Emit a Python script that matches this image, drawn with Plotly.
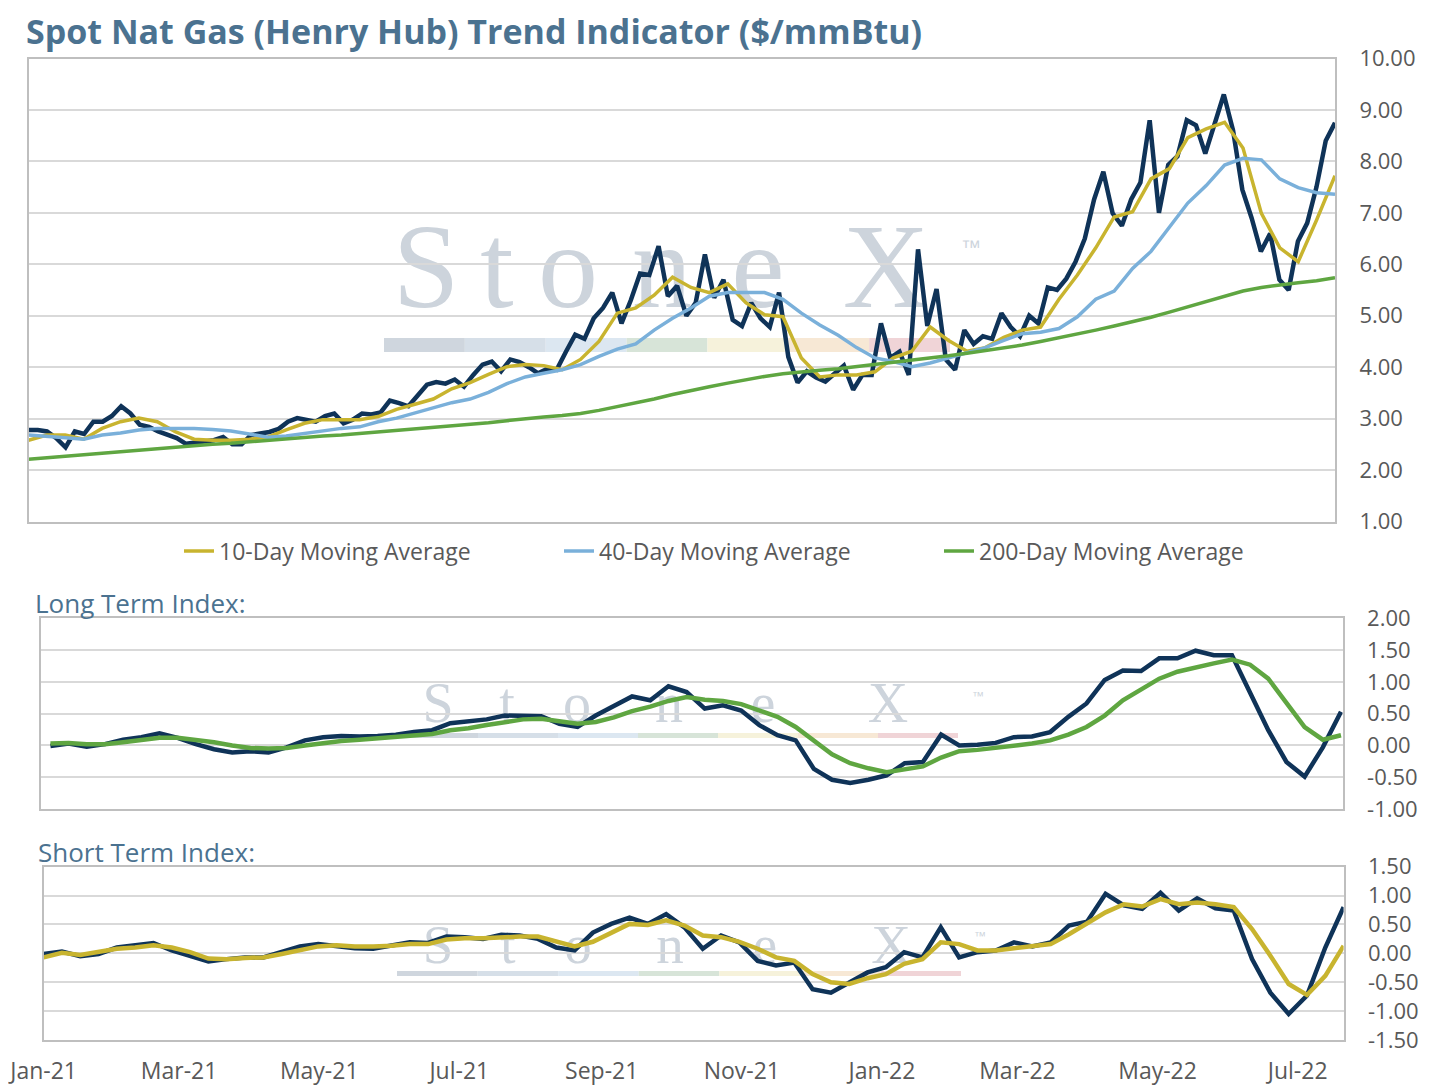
import pandas as pd
import plotly.graph_objects as go

W, H = 1431, 1090
start = pd.Timestamp("2021-01-01")
end = pd.Timestamp("2022-07-21")

# Spot Henry Hub price, read every ~4 days ($/mmBtu)
spot = [
    2.78, 2.78, 2.75, 2.62, 2.44, 2.75, 2.70, 2.94, 2.94, 3.05,
    3.24, 3.10, 2.88, 2.84, 2.75, 2.68, 2.62, 2.51, 2.54, 2.56,
    2.58, 2.64, 2.50, 2.50, 2.68, 2.71, 2.74, 2.80, 2.94, 3.01,
    2.98, 2.94, 3.05, 3.10, 2.91, 2.98, 3.10, 3.08, 3.12, 3.35,
    3.30, 3.24, 3.45, 3.66, 3.71, 3.68, 3.76, 3.62, 3.85, 4.05,
    4.11, 3.92, 4.15, 4.10, 4.00, 3.88, 3.97, 3.95, 4.30, 4.63,
    4.55, 4.95, 5.15, 5.45, 4.85, 5.30, 5.82, 5.79, 6.35, 5.38,
    5.58, 5.00, 5.25, 6.19, 5.35, 5.70, 4.92, 4.80, 5.25, 4.95,
    4.78, 5.45, 4.20, 3.70, 3.92, 3.80, 3.72, 3.88, 4.03, 3.56,
    3.85, 3.85, 4.85, 4.18, 4.30, 3.85, 6.29, 4.80, 5.52, 4.15,
    3.95, 4.72, 4.45, 4.60, 4.55, 5.05, 4.78, 4.60, 5.00, 4.85,
    5.55, 5.50, 5.72, 6.05, 6.50, 7.26, 7.80, 6.99, 6.75, 7.26,
    7.59, 8.80, 7.00, 7.93, 8.10, 8.80, 8.70, 8.15, 8.70, 9.30,
    8.60, 7.45, 6.90, 6.25, 6.60, 5.70, 5.50, 6.45, 6.80, 7.50,
    8.40, 8.75,
]

# Moving averages, read every ~8 days
ma_10 = [
    2.58, 2.68, 2.68, 2.60, 2.81, 2.94, 3.01, 2.94, 2.74, 2.60,
    2.58, 2.58, 2.60, 2.64, 2.78, 2.91, 2.98, 2.98, 2.98, 3.04,
    3.18, 3.28, 3.38, 3.58, 3.70, 3.86, 4.01, 4.05, 4.03, 3.95,
    4.15, 4.50, 5.05, 5.15, 5.40, 5.75, 5.55, 5.45, 5.62, 5.25,
    5.02, 4.98, 4.18, 3.81, 3.85, 3.85, 3.91, 4.18, 4.31, 4.78,
    4.52, 4.31, 4.38, 4.58, 4.72, 4.78, 5.32, 5.79, 6.32, 6.92,
    7.02, 7.66, 7.86, 8.46, 8.63, 8.76, 8.26, 6.99, 6.32, 6.05,
    6.86, 7.72,
]
ma_40 = [
    2.68, 2.66, 2.63, 2.60, 2.68, 2.72, 2.78, 2.81, 2.81, 2.81,
    2.79, 2.76, 2.70, 2.64, 2.66, 2.71, 2.76, 2.81, 2.84, 2.94,
    3.01, 3.11, 3.21, 3.31, 3.38, 3.51, 3.68, 3.81, 3.88, 3.95,
    4.05, 4.21, 4.35, 4.45, 4.72, 4.95, 5.15, 5.38, 5.45, 5.45,
    5.45, 5.32, 5.05, 4.82, 4.62, 4.38, 4.18, 4.11, 4.01, 4.08,
    4.18, 4.28, 4.38, 4.52, 4.65, 4.68, 4.75, 4.98, 5.32, 5.48,
    5.92, 6.25, 6.72, 7.19, 7.53, 7.93, 8.06, 8.03, 7.66, 7.49,
    7.39, 7.36,
]
ma_200 = [
    2.21, 2.24, 2.27, 2.30, 2.33, 2.36, 2.39, 2.42, 2.45, 2.48,
    2.50, 2.52, 2.55, 2.58, 2.61, 2.63, 2.66, 2.68, 2.71, 2.73,
    2.76, 2.79, 2.82, 2.85, 2.88, 2.92, 2.96, 3.00, 3.03, 3.06,
    3.10, 3.16, 3.23, 3.30, 3.38, 3.47, 3.55, 3.62, 3.69, 3.76,
    3.82, 3.87, 3.91, 3.94, 3.97, 4.01, 4.05, 4.09, 4.13, 4.17,
    4.22, 4.27, 4.32, 4.37, 4.43, 4.50, 4.57, 4.65, 4.72, 4.80,
    4.88, 4.97, 5.07, 5.17, 5.28, 5.38, 5.48, 5.55, 5.60, 5.64,
    5.68, 5.74,
]

# Long term index
long_idx = [
    -0.01, 0.03, -0.02, 0.02, 0.09, 0.13, 0.19, 0.12, 0.02, -0.06,
    -0.11, -0.09, -0.11, -0.03, 0.08, 0.13, 0.15, 0.14, 0.15, 0.17,
    0.21, 0.24, 0.35, 0.38, 0.41, 0.47, 0.47, 0.46, 0.34, 0.29,
    0.47, 0.63, 0.77, 0.71, 0.93, 0.84, 0.58, 0.63, 0.55, 0.32,
    0.16, 0.08, -0.37, -0.54, -0.59, -0.54, -0.47, -0.28, -0.26, 0.17,
    0.00, 0.01, 0.04, 0.13, 0.14, 0.21, 0.45, 0.66, 1.03, 1.18,
    1.17, 1.37, 1.37, 1.49, 1.42, 1.42, 0.82, 0.24, -0.26, -0.49,
    -0.03, 0.53,
]
long_avg = [
    0.03, 0.04, 0.02, 0.02, 0.05, 0.09, 0.12, 0.12, 0.09, 0.05,
    0.00, -0.04, -0.05, -0.04, 0.00, 0.04, 0.07, 0.09, 0.11, 0.13,
    0.16, 0.18, 0.24, 0.27, 0.32, 0.37, 0.41, 0.42, 0.38, 0.34,
    0.37, 0.44, 0.54, 0.61, 0.70, 0.76, 0.72, 0.70, 0.65, 0.55,
    0.45, 0.29, 0.08, -0.14, -0.28, -0.36, -0.42, -0.38, -0.33, -0.19,
    -0.09, -0.07, -0.04, -0.01, 0.03, 0.08, 0.17, 0.29, 0.47, 0.71,
    0.89, 1.05, 1.16, 1.23, 1.29, 1.35, 1.27, 1.05, 0.66, 0.29,
    0.09, 0.16,
]

# Short term index
short_idx = [
    -0.01, 0.03, -0.05, -0.01, 0.10, 0.14, 0.18, 0.05, -0.04, -0.14,
    -0.10, -0.07, -0.07, 0.02, 0.12, 0.16, 0.13, 0.09, 0.08, 0.13,
    0.19, 0.18, 0.29, 0.28, 0.25, 0.32, 0.31, 0.25, 0.10, 0.05,
    0.36, 0.51, 0.62, 0.51, 0.68, 0.45, 0.08, 0.31, 0.19, -0.13,
    -0.21, -0.16, -0.62, -0.68, -0.50, -0.33, -0.24, 0.02, -0.07, 0.45,
    -0.07, 0.02, 0.05, 0.19, 0.12, 0.19, 0.48, 0.55, 1.03, 0.83,
    0.77, 1.05, 0.74, 0.95, 0.78, 0.74, -0.10, -0.68, -1.05, -0.73,
    0.10, 0.80,
]
short_avg = [
    -0.07, 0.01, -0.03, 0.02, 0.08, 0.10, 0.14, 0.10, 0.02, -0.09,
    -0.10, -0.08, -0.07, -0.01, 0.06, 0.12, 0.14, 0.12, 0.12, 0.13,
    0.16, 0.16, 0.24, 0.26, 0.26, 0.28, 0.29, 0.29, 0.20, 0.12,
    0.20, 0.36, 0.51, 0.49, 0.57, 0.48, 0.31, 0.28, 0.20, 0.08,
    -0.07, -0.13, -0.36, -0.50, -0.53, -0.43, -0.36, -0.18, -0.10, 0.19,
    0.16, 0.05, 0.05, 0.09, 0.13, 0.16, 0.33, 0.51, 0.71, 0.85,
    0.81, 0.94, 0.85, 0.88, 0.85, 0.80, 0.42, -0.04, -0.53, -0.72,
    -0.39, 0.13,
]

# axis ticks
price_ticks = [1, 2, 3, 4, 5, 6, 7, 8, 9, 10]
long_ticks = [-1.0, -0.5, 0.0, 0.5, 1.0, 1.5, 2.0]
short_ticks = [-1.5, -1.0, -0.5, 0.0, 0.5, 1.0, 1.5]
month_ticks = pd.date_range("2021-01-01", "2022-07-01", freq="2MS")

spot_dates = pd.date_range(start, end, periods=len(spot))
ma_dates = pd.date_range(start, end, periods=len(ma_10))

NAVY = "#0f3358"
YELLOW = "#c8b42f"
BLUE = "#7ab0da"
GREEN = "#5fa641"
TITLE_C = "#4b7290"
TEXT_C = "#595959"
GRID_C = "#d9d9d9"
BORDER_C = "#bfbfbf"
FONT = "Open Sans"

# page body adds an 8px offset, positions below are screen pixels
OFF = 8


def px(x):
    return (x - OFF) / W


def py(y):
    return 1 - (y - OFF) / H


def labels(vals):
    # plain hyphen for negatives, like the original
    return [f"{v:.2f}" for v in vals]


fig = go.Figure()

# top panel
fig.add_trace(go.Scatter(x=spot_dates, y=spot, mode="lines", name="Spot",
                         line=dict(color=NAVY, width=4.5), showlegend=False,
                         xaxis="x", yaxis="y"))
fig.add_trace(go.Scatter(x=ma_dates, y=ma_10, mode="lines", name="10-Day Moving Average",
                         line=dict(color=YELLOW, width=3.5), xaxis="x", yaxis="y"))
fig.add_trace(go.Scatter(x=ma_dates, y=ma_40, mode="lines", name="40-Day Moving Average",
                         line=dict(color=BLUE, width=3.5), xaxis="x", yaxis="y"))
fig.add_trace(go.Scatter(x=ma_dates, y=ma_200, mode="lines", name="200-Day Moving Average",
                         line=dict(color=GREEN, width=3.5), xaxis="x", yaxis="y"))

# middle panel
fig.add_trace(go.Scatter(x=ma_dates, y=long_idx, mode="lines", showlegend=False,
                         line=dict(color=NAVY, width=4.5), xaxis="x2", yaxis="y2"))
fig.add_trace(go.Scatter(x=ma_dates, y=long_avg, mode="lines", showlegend=False,
                         line=dict(color=GREEN, width=4.5), xaxis="x2", yaxis="y2"))

# bottom panel
fig.add_trace(go.Scatter(x=ma_dates, y=short_idx, mode="lines", showlegend=False,
                         line=dict(color=NAVY, width=4.5), xaxis="x3", yaxis="y3"))
fig.add_trace(go.Scatter(x=ma_dates, y=short_avg, mode="lines", showlegend=False,
                         line=dict(color=YELLOW, width=4.5), xaxis="x3", yaxis="y3"))

box = dict(showline=True, mirror=True, linecolor=BORDER_C, linewidth=2, automargin=False)
yax = dict(side="right", gridcolor=GRID_C, gridwidth=1.5,
           zeroline=False, ticks="outside", ticklen=18, tickcolor="rgba(0,0,0,0)",
           tickfont=dict(size=22, color=TEXT_C), **box)
xhide = dict(showticklabels=False, showgrid=False, zeroline=False, ticks="", **box)

fig.update_layout(
    width=W, height=H,
    margin=dict(l=0, r=0, t=0, b=0, pad=0, autoexpand=False),
    paper_bgcolor="white", plot_bgcolor="white",
    font=dict(family=FONT, color=TEXT_C, size=22),
    xaxis=dict(domain=[px(28.5), px(1335)], anchor="y",
               range=[start, end], **xhide),
    yaxis=dict(domain=[py(521.5), py(58.5)], anchor="x", range=[1, 10],
               tickvals=price_ticks, ticktext=labels(price_ticks), **yax),
    xaxis2=dict(domain=[px(41.3), px(1342.7)], anchor="y2",
                range=[start - pd.Timedelta(days=4), end + pd.Timedelta(hours=18)], **xhide),
    yaxis2=dict(domain=[py(809), py(618.3)], anchor="x2", range=[-1, 2],
                tickvals=long_ticks, ticktext=labels(long_ticks), **yax),
    xaxis3=dict(domain=[px(43.6), px(1343.6)], anchor="y3", range=[start, end],
                tickvals=month_ticks, tickformat="%b-%y", showgrid=False, zeroline=False,
                ticks="outside", ticklen=9, tickcolor="rgba(0,0,0,0)",
                tickfont=dict(size=23, color=TEXT_C), **box),
    xaxis4=dict(overlaying="x3", anchor="y3", side="top", range=[start, end],
                tickvals=month_ticks, showticklabels=False, showgrid=False,
                zeroline=False, showline=False, ticks="inside", ticklen=6,
                tickwidth=2, tickcolor=BORDER_C, automargin=False),
    yaxis3=dict(domain=[py(1040), py(866.7)], anchor="x3", range=[-1.5, 1.5],
                tickvals=short_ticks, ticktext=labels(short_ticks), **yax),
    legend=dict(orientation="h", x=px(179), y=py(551), xanchor="left", yanchor="middle",
                entrywidth=335, entrywidthmode="pixels",
                font=dict(size=23, color=TEXT_C), bgcolor="rgba(0,0,0,0)"),
)

fig.add_annotation(text="<b>Spot Nat Gas (Henry Hub) Trend Indicator ($/mmBtu)</b>",
                   xref="paper", yref="paper", x=px(24), y=py(31),
                   xanchor="left", yanchor="middle", showarrow=False,
                   font=dict(size=34, color=TITLE_C))
fig.add_annotation(text="Long Term Index:", xref="paper", yref="paper",
                   x=px(33), y=py(603), xanchor="left", yanchor="middle",
                   showarrow=False, font=dict(size=26, color=TITLE_C))
fig.add_annotation(text="Short Term Index:", xref="paper", yref="paper",
                   x=px(36), y=py(852), xanchor="left", yanchor="middle",
                   showarrow=False, font=dict(size=26, color=TITLE_C))

# StoneX watermark behind each panel
WM_C = "#cdd4dc"
wm_letters = ["S", "t", "o", "n", "e", "X"]
bar_colors = ["#cfd6de", "#d6dfe8", "#dce7f1", "#d7e4d8", "#f6f2db", "#f7e8d5", "#f0d4d7"]
watermarks = [
    # letter centres, text centre y, font size, tm (x, y, size), bar (x0, x1, y0, y1)
    dict(cx=[426, 497, 568, 662, 758, 886], cy=253, fs=120, tm=(971, 245, 20),
         bar=(384, 950, 338, 352)),
    dict(cx=[438, 507, 577, 669, 763, 888], cy=697, fs=56, tm=(978, 695, 12),
         bar=(398, 958, 733, 738)),
    dict(cx=[438, 508, 578, 670, 765, 891], cy=938, fs=55, tm=(980, 935, 12),
         bar=(397, 961, 971, 976)),
]
for wm in watermarks:
    for ch, cx in zip(wm_letters, wm["cx"]):
        fig.add_shape(type="rect", xref="paper", yref="paper",
                      x0=px(cx - 40), x1=px(cx + 40), y0=py(wm["cy"] + 20), y1=py(wm["cy"] - 20),
                      line=dict(width=0), fillcolor="rgba(0,0,0,0)", layer="below",
                      label=dict(text=ch, textposition="middle center",
                                 font=dict(family="Liberation Serif", size=wm["fs"], color=WM_C)))
    tx, ty, ts = wm["tm"]
    fig.add_shape(type="rect", xref="paper", yref="paper",
                  x0=px(tx - 20), x1=px(tx + 20), y0=py(ty + 8), y1=py(ty - 8),
                  line=dict(width=0), fillcolor="rgba(0,0,0,0)", layer="below",
                  label=dict(text="™", textposition="middle center",
                             font=dict(family="Liberation Sans", size=ts, color=WM_C)))
    bx0, bx1, by0, by1 = wm["bar"]
    seg = (bx1 - bx0) / len(bar_colors)
    for i, c in enumerate(bar_colors):
        fig.add_shape(type="rect", xref="paper", yref="paper",
                      x0=px(bx0 + i * seg), x1=px(bx0 + (i + 1) * seg),
                      y0=py(by1), y1=py(by0), line=dict(width=0),
                      fillcolor=c, layer="below")

fig.write_html("out.html")
